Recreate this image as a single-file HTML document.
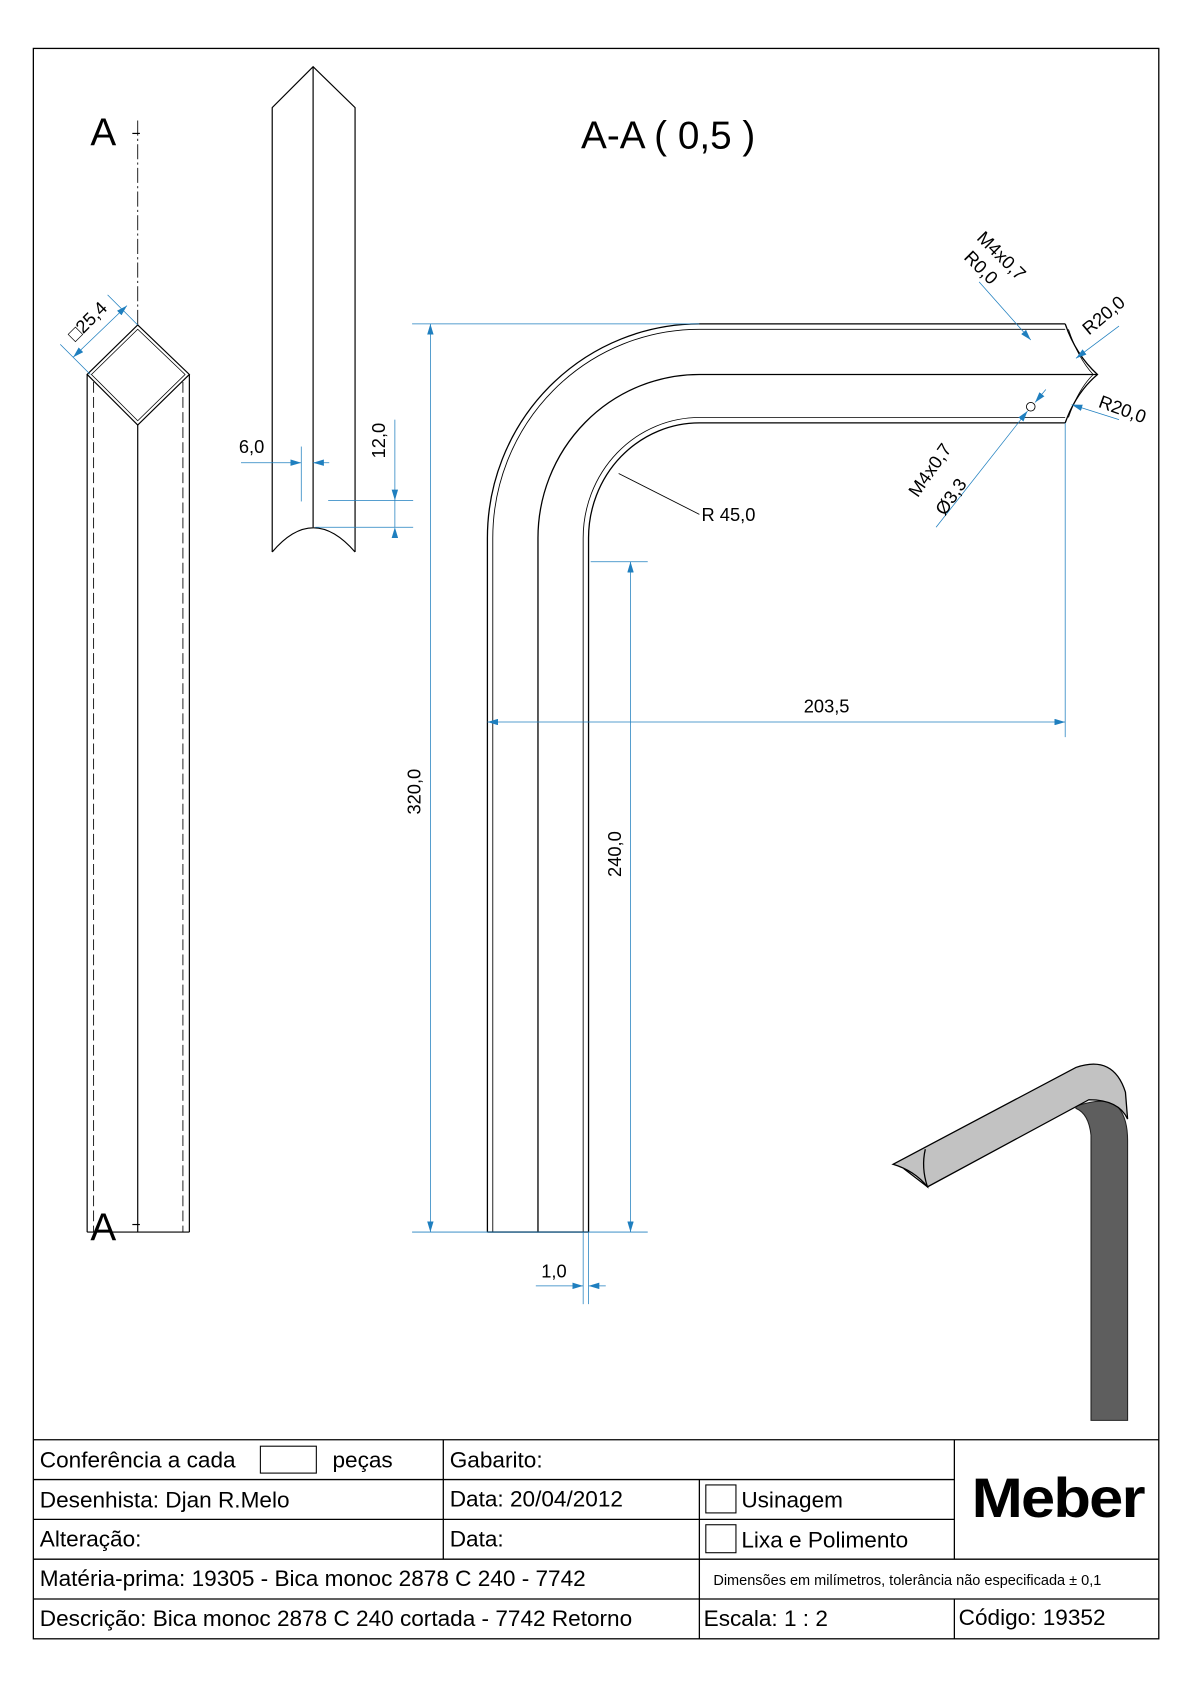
<!DOCTYPE html>
<html><head><meta charset="utf-8"><style>html,body{margin:0;padding:0;background:#fff}svg{display:block}text{font-family:"Liberation Sans",sans-serif;fill:#000}</style></head><body>
<svg width="1190" height="1684" viewBox="0 0 1106 1565" preserveAspectRatio="none" xmlns="http://www.w3.org/2000/svg">
<defs>
<marker id="a" viewBox="0 0 10 6" refX="10" refY="3" markerWidth="10" markerHeight="6" markerUnits="userSpaceOnUse" orient="auto"><path d="M0,0 L10,3 L0,6 Z" fill="#1f7fbf"/></marker>
<marker id="b" viewBox="0 0 10 6" refX="0" refY="3" markerWidth="10" markerHeight="6" markerUnits="userSpaceOnUse" orient="auto"><path d="M10,0 L0,3 L10,6 Z" fill="#1f7fbf"/></marker>
</defs>
<rect width="1106" height="1565" fill="#fff"/>
<rect x="31" y="45" width="1046" height="1478" fill="none" stroke="#000" stroke-width="1.2"/>
<!-- left view -->
<g stroke="#000" stroke-width="1.1" fill="none">
<line x1="128" y1="112" x2="128" y2="302" stroke-dasharray="14,3,2,3" stroke-width="0.8"/>
<line x1="123" y1="124" x2="130" y2="124"/>
<line x1="123" y1="1138" x2="130" y2="1138"/>
<path d="M81,348 L128,302 L176,348 L128,395 Z"/>
<path d="M85,348 L128,306 L172,348 L128,391 Z" stroke-width="0.7"/>
<line x1="81" y1="348" x2="81" y2="1145"/><line x1="176" y1="348" x2="176" y2="1145"/>
<line x1="128" y1="395" x2="128" y2="1145"/>
<line x1="81" y1="1145" x2="176" y2="1145"/>
<line x1="87" y1="355" x2="87" y2="1145" stroke-dasharray="10,4" stroke-width="0.8"/>
<line x1="170" y1="355" x2="170" y2="1145" stroke-dasharray="10,4" stroke-width="0.8"/>
</g>
<text x="84" y="135" font-size="36">A</text>
<text x="84" y="1153" font-size="36">A</text>
<g stroke="#1f7fbf" stroke-width="0.7" fill="none">
<line x1="56" y1="320" x2="84" y2="348"/><line x1="100" y1="274" x2="128" y2="302"/>
<line x1="68" y1="332" x2="118" y2="284" marker-start="url(#b)" marker-end="url(#a)"/>
</g>
<text transform="translate(70,318) rotate(-45)" font-size="17">□25,4</text>
<!-- middle view -->
<g stroke="#000" stroke-width="1.1" fill="none">
<path d="M253,513 L253,100 L291,62 L330,100 L330,513"/>
<line x1="291" y1="62" x2="291" y2="490"/>
<path d="M253,513 Q291,468 330,513"/>
</g>
<g stroke="#1f7fbf" stroke-width="0.7" fill="none">
<line x1="224" y1="430" x2="280" y2="430" marker-end="url(#a)"/>
<line x1="306" y1="430" x2="291" y2="430" marker-end="url(#a)"/>
<line x1="280" y1="415" x2="280" y2="466"/>
<line x1="305" y1="465" x2="384" y2="465"/><line x1="293" y1="490" x2="384" y2="490"/>
<line x1="367" y1="390" x2="367" y2="465" marker-end="url(#a)"/>
<line x1="367" y1="490" x2="367" y2="465" marker-start="url(#a)"/>
</g>
<text x="222" y="421" font-size="17">6,0</text>
<text transform="translate(358,426) rotate(-90)" font-size="17">12,0</text>
<!-- title -->
<text x="540" y="138" font-size="36">A-A ( 0,5 )</text>
<!-- main elbow -->
<g stroke="#000" stroke-width="1.2" fill="none">
<path d="M453,1145 L453,500 A197,199 0 0 1 650,301 L990,301"/>
<path d="M458,1145 L458,500 A192,194 0 0 1 650,306 L990,306" stroke-width="0.8"/>
<path d="M500,1145 L500,500 A150,152 0 0 1 650,348 L1020,348"/>
<path d="M547,1145 L547,500 A103,107 0 0 1 650,393 L990,393"/>
<path d="M542,1145 L542,500 A108,112 0 0 1 650,388 L990,388" stroke-width="0.8"/>
<line x1="453" y1="1145" x2="547" y2="1145"/>
<path d="M990,301 Q1000,330 1020,348 Q1000,365 990,393"/>
<path d="M993,306 Q1002,333 1016,348 Q1002,362 993,388" stroke-width="0.7"/>
<circle cx="958" cy="378" r="4" stroke-width="0.8"/>
<line x1="575" y1="440" x2="650" y2="478" stroke-width="0.8"/>
</g>
<g stroke="#1f7fbf" stroke-width="0.7" fill="none">
<line x1="383" y1="301" x2="650" y2="301"/><line x1="383" y1="1145" x2="602" y2="1145"/>
<line x1="400" y1="301" x2="400" y2="1145" marker-start="url(#b)" marker-end="url(#a)"/>
<line x1="549" y1="522" x2="602" y2="522"/><line x1="586" y1="522" x2="586" y2="1145" marker-start="url(#b)" marker-end="url(#a)"/>
<line x1="453" y1="671" x2="990" y2="671" marker-start="url(#b)" marker-end="url(#a)"/><line x1="990" y1="393" x2="990" y2="685"/>
<line x1="498" y1="1195" x2="542" y2="1195" marker-end="url(#a)"/>
<line x1="563" y1="1195" x2="547" y2="1195" marker-end="url(#a)"/>
<line x1="542" y1="1145" x2="542" y2="1212"/><line x1="547" y1="1145" x2="547" y2="1212"/>
<line x1="910" y1="262" x2="958" y2="316" marker-end="url(#a)"/>
<line x1="1040" y1="303" x2="1000" y2="333" marker-end="url(#a)"/>
<line x1="1040" y1="390" x2="996" y2="376" marker-end="url(#a)"/>
<line x1="870" y1="490" x2="955" y2="382" marker-end="url(#a)"/>
<line x1="972" y1="362" x2="962" y2="374" marker-end="url(#a)"/>
</g>
<text x="652" y="484" font-size="17">R 45,0</text>
<text x="747" y="662" font-size="17">203,5</text>
<text transform="translate(391,757) rotate(-90)" font-size="17">320,0</text>
<text transform="translate(577,815) rotate(-90)" font-size="17">240,0</text>
<text x="503" y="1187" font-size="17">1,0</text>
<text transform="translate(907,222) rotate(45)" font-size="17">M4x0,7</text>
<text transform="translate(895,240) rotate(45)" font-size="17">R0,0</text>
<text transform="translate(1012,312) rotate(-40)" font-size="17">R20,0</text>
<text transform="translate(1020,378) rotate(20)" font-size="17">R20,0</text>
<text transform="translate(853,463) rotate(-55)" font-size="17">M4x0,7</text>
<text transform="translate(878,480) rotate(-55)" font-size="17">Ø3,3</text>
<!-- 3D -->
<path d="M1000,1028 Q1030,1018 1040,1030 Q1048,1040 1048,1060 L1048,1320 L1014,1320 L1014,1055 Q1012,1035 1000,1030 Z" fill="#5e5e5e" stroke="#222" stroke-width="1"/>
<path d="M830,1082 L1000,992 Q1035,980 1046,1015 L1048,1040 Q1040,1022 1012,1022 L862,1103 Q850,1088 830,1082 Z" fill="#c2c2c2" stroke="#000" stroke-width="1.2"/>
<path d="M840,1086 L862,1103 Q856,1085 860,1068" fill="none" stroke="#000" stroke-width="1.2"/>
<!-- title block -->
<g stroke="#000" stroke-width="1.2" fill="none">
<line x1="31" y1="1338" x2="1077" y2="1338"/>
<line x1="31" y1="1375" x2="887" y2="1375"/>
<line x1="31" y1="1412" x2="887" y2="1412"/>
<line x1="31" y1="1449" x2="1077" y2="1449"/>
<line x1="31" y1="1486" x2="1077" y2="1486"/>
<line x1="412" y1="1338" x2="412" y2="1449"/>
<line x1="650" y1="1375" x2="650" y2="1523"/>
<line x1="887" y1="1338" x2="887" y2="1449"/>
<line x1="887" y1="1486" x2="887" y2="1523"/>
<rect x="242" y="1344" width="52" height="25" stroke-width="1"/>
<rect x="656" y="1380" width="28" height="26" stroke-width="1"/>
<rect x="656" y="1417" width="28" height="26" stroke-width="1"/>
</g>
<g font-size="21">
<text x="37" y="1364">Conferência a cada</text><text x="309" y="1364">peças</text>
<text x="418" y="1364">Gabarito:</text>
<text x="37" y="1401">Desenhista: Djan R.Melo</text>
<text x="418" y="1400">Data: 20/04/2012</text>
<text x="689" y="1401">Usinagem</text>
<text x="37" y="1437">Alteração:</text>
<text x="418" y="1437">Data:</text>
<text x="689" y="1438">Lixa e Polimento</text>
<text x="37" y="1474">Matéria-prima: 19305 - Bica monoc 2878 C 240 - 7742</text>
<text x="37" y="1511">Descrição: Bica monoc 2878 C 240 cortada - 7742 Retorno</text>
<text x="654" y="1511">Escala: 1 : 2</text>
<text x="891" y="1510">Código: 19352</text>
</g>
<text x="663" y="1473" font-size="13.5">Dimensões em milímetros, tolerância não especificada ± 0,1</text>
<text x="903" y="1410" font-size="52" font-weight="bold" letter-spacing="-1.5" textLength="160" lengthAdjust="spacingAndGlyphs">Meber</text>
</svg>
</body></html>
